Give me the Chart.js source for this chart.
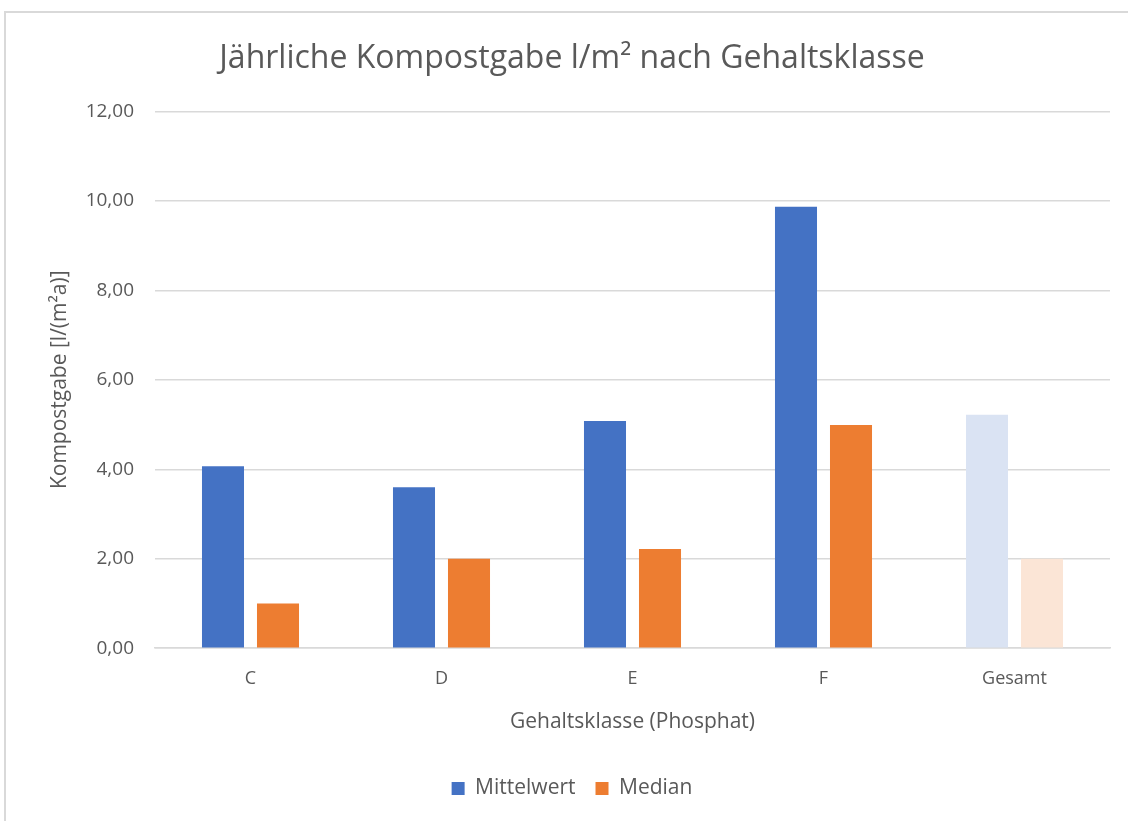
<!DOCTYPE html>
<html>
<head>
<meta charset="utf-8">
<script src="https://cdn.jsdelivr.net/npm/chart.js@4.4.0/dist/chart.umd.min.js"></script>
<style>
  html, body { margin: 0; padding: 0; background: #fff; }
  #frame { position: absolute; left: 4px; top: 11px; width: 1130px; height: 820px;
           border-top: 2px solid #d9d9d9; border-left: 2px solid #d9d9d9; }
  #wrap { position: absolute; left: 0; top: 0; width: 1128px; height: 821px; }
</style>
</head>
<body>
<div id="frame"></div>
<div id="wrap"><canvas id="kompostChart"></canvas></div>
<script>
// Werte
var klassen = ['C', 'D', 'E', 'F', 'Gesamt'];
var mittelwert = [4.07, 3.60, 5.08, 9.87, 5.22];
var median = [1.00, 2.00, 2.22, 4.99, 2.00];
var yTicks = [0, 2, 4, 6, 8, 10, 12];

var blau = ['#4472c4', '#4472c4', '#4472c4', '#4472c4', '#dae3f3'];
var orange = ['#ed7d31', '#ed7d31', '#ed7d31', '#ed7d31', '#fbe5d6'];
var textFarbe = '#595959';
var font = '"Open Sans", sans-serif';

var ctx = document.getElementById('kompostChart').getContext('2d');
var kompostChart = new Chart(ctx, {
    type: 'bar',
    data: {
        labels: klassen,
        datasets: [{
            label: 'Mittelwert',
            data: mittelwert,
            backgroundColor: blau,
            categoryPercentage: 0.576,
            barPercentage: 0.764
        }, {
            label: 'Median',
            data: median,
            backgroundColor: orange,
            categoryPercentage: 0.576,
            barPercentage: 0.764
        }]
    },
    options: {
        responsive: true,
        maintainAspectRatio: false,
        animation: false,
        layout: { padding: { left: 34, right: 18, top: 0, bottom: 12 } },
        plugins: {
            title: {
                display: true,
                text: 'Jährliche Kompostgabe l/m² nach Gehaltsklasse',
                color: textFarbe,
                font: { family: font, size: 32, weight: 'normal' },
                padding: { top: 40, bottom: 33 }
            },
            legend: {
                position: 'bottom',
                labels: {
                    color: textFarbe,
                    font: { family: font, size: 21 },
                    boxWidth: 13,
                    boxHeight: 13,
                    padding: 20,
                    // Gesamt-Farbe nicht für Legende verwenden
                    generateLabels: function (chart) {
                        return chart.data.datasets.map(function (ds, i) {
                            return {
                                text: ds.label,
                                fillStyle: ds.backgroundColor[0],
                                strokeStyle: ds.backgroundColor[0],
                                lineWidth: 0,
                                fontColor: textFarbe,
                                datasetIndex: i
                            };
                        });
                    }
                }
            },
            tooltip: { enabled: false }
        },
        scales: {
            x: {
                grid: { display: false, drawTicks: false },
                border: { color: '#d9d9d9', width: 1.5 },
                ticks: { color: textFarbe, font: { family: font, size: 18 }, padding: 20 },
                title: {
                    display: true,
                    text: 'Gehaltsklasse (Phosphat)',
                    color: textFarbe,
                    font: { family: font, size: 21 },
                    padding: { top: 0, bottom: 23 }
                }
            },
            y: {
                min: 0,
                max: 12,
                afterFit: function (scale) { scale.width = 121; },
                afterBuildTicks: function (scale) {
                    scale.ticks = yTicks.map(function (v) { return { value: v }; });
                },
                grid: { color: '#d9d9d9', lineWidth: 1.5, drawTicks: false },
                border: { display: false },
                ticks: {
                    color: textFarbe,
                    font: { family: font, size: 19 },
                    padding: 21,
                    callback: function (v) { return v.toFixed(2).replace('.', ','); }
                },
                title: {
                    display: true,
                    text: 'Kompostgabe [l/(m²a)]',
                    color: textFarbe,
                    font: { family: font, size: 21 },
                    padding: { top: 13, bottom: 0 }
                }
            }
        }
    }
});
</script>
</body>
</html>
